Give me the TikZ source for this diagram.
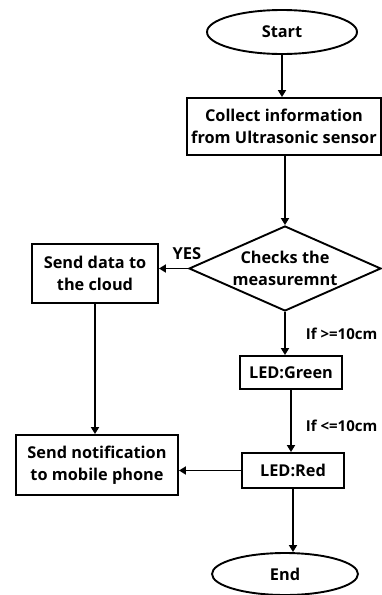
\documentclass[tikz,border=0pt]{standalone}
\usepackage{fontspec}
\setmainfont{Open Sans}
\usetikzlibrary{shapes.geometric,arrows.meta}
\begin{document}
\begin{tikzpicture}[x=1pt,y=-1pt,
  font=\bfseries\fontsize{16.3}{22.5}\selectfont,
  line width=1.9pt,
  box/.style={draw,rectangle,inner sep=0pt,align=center},
  term/.style={draw,ellipse,inner sep=0pt,align=center},
  dec/.style={draw,diamond,inner sep=0pt,align=center,aspect=2.26},
  arr/.style={-{Triangle[length=7pt,width=8pt]}},
  lbl/.style={font=\bfseries\fontsize{15}{17}\selectfont,inner sep=0pt}]
\useasboundingbox (0,0) rectangle (381,595);
\node[term,minimum width=150pt,minimum height=44pt] (start) at (282,32) {Start};
\node[box,minimum width=194pt,minimum height=57pt] (collect) at (284,126.5) {Collect information\\from Ultrasonic sensor};
\node[dec,minimum width=192pt,minimum height=85pt] (check) at (285,268.5) {Checks the\\measuremnt};
\node[box,minimum width=126pt,minimum height=59pt] (cloud) at (95,273.5) {Send data to\\the cloud};
\node[box,minimum width=102pt,minimum height=33pt] (green) at (291,372.5) {LED:Green};
\node[box,minimum width=102pt,minimum height=35pt] (red) at (293,470.5) {LED:Red};
\node[box,minimum width=162pt,minimum height=60pt] (notify) at (97,465) {Send notification\\to mobile phone};
\node[term,minimum width=146pt,minimum height=42pt] (end) at (285,574) {End};
\node[lbl,font=\bfseries\fontsize{16.5}{18}\selectfont] (yes) at (187,254) {YES};
\node[lbl,anchor=west] (c1) at (305,334) {If >=10cm};
\node[lbl,anchor=west] (c2) at (305,426) {If <=10cm};
\draw[arr] (start.south) -- (collect.north -| start.south);
\draw[arr] (collect.south -| check.north) -- (check.north);
\draw[arr] (check.west) -- (cloud.east |- check.west);
\draw[arr] (check.south) -- (green.north -| check.south);
\draw[arr] (green.south) -- (red.north -| green.south);
\draw[arr] (cloud.south) -- (notify.north -| cloud.south);
\draw[arr] (red.west) -- (notify.east |- red.west);
\draw[arr] (red.south) -- (end.north -| red.south);
\end{tikzpicture}
\end{document}
